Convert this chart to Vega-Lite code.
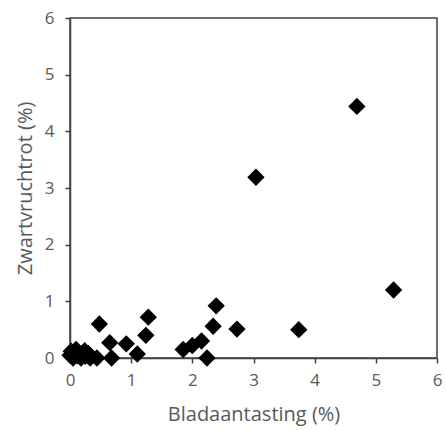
{
  "$schema": "https://vega.github.io/schema/vega-lite/v6.json",
  "autosize": "none",
  "width": 367,
  "height": 340,
  "padding": {"left": 70, "top": 18, "right": 9, "bottom": 72},
  "background": "white",
  "config": {
    "view": {"stroke": "#404040", "strokeWidth": 1.5},
    "axis": {
      "grid": false,
      "labelFlush": false,
      "labelOverlap": false,
      "domainColor": "#404040",
      "domainWidth": 1.5,
      "tickColor": "#404040",
      "tickWidth": 1.5,
      "tickSize": 5,
      "labelColor": "#595959",
      "labelFont": "Open Sans",
      "labelFontSize": 17,
      "titleColor": "#595959",
      "titleFont": "Open Sans",
      "titleFontSize": 20,
      "titleFontWeight": "normal"
    }
  },
  "data": {
    "values": [
      {"blad": 4.69, "zwart": 4.44},
      {"blad": 3.04, "zwart": 3.19},
      {"blad": 5.29, "zwart": 1.2},
      {"blad": 3.74, "zwart": 0.5},
      {"blad": 2.73, "zwart": 0.51},
      {"blad": 2.39, "zwart": 0.92},
      {"blad": 2.34, "zwart": 0.56},
      {"blad": 2.24, "zwart": 0.0},
      {"blad": 2.15, "zwart": 0.3},
      {"blad": 2.0, "zwart": 0.22},
      {"blad": 1.85, "zwart": 0.15},
      {"blad": 1.28, "zwart": 0.72},
      {"blad": 1.24, "zwart": 0.4},
      {"blad": 0.48, "zwart": 0.6},
      {"blad": 0.65, "zwart": 0.27},
      {"blad": 0.92, "zwart": 0.25},
      {"blad": 1.1, "zwart": 0.07},
      {"blad": 0.68, "zwart": 0.0},
      {"blad": 0.44, "zwart": 0.0},
      {"blad": 0.0, "zwart": 0.05},
      {"blad": 0.02, "zwart": 0.12},
      {"blad": 0.05, "zwart": 0.0},
      {"blad": 0.1, "zwart": 0.15},
      {"blad": 0.12, "zwart": 0.04},
      {"blad": 0.18, "zwart": 0.0},
      {"blad": 0.24, "zwart": 0.13},
      {"blad": 0.3, "zwart": 0.08},
      {"blad": 0.33, "zwart": 0.0},
      {"blad": 0.25, "zwart": 0.03}
    ]
  },
  "mark": {"type": "point", "shape": "diamond", "filled": true, "color": "black", "opacity": 1, "size": 300},
  "encoding": {
    "x": {
      "field": "blad", "type": "quantitative",
      "scale": {"domain": [0, 6], "nice": false, "zero": true},
      "axis": {"title": "Bladaantasting (%)", "values": [0, 1, 2, 3, 4, 5, 6], "labelPadding": 9, "titlePadding": 16}
    },
    "y": {
      "field": "zwart", "type": "quantitative",
      "scale": {"domain": [0, 6], "nice": false, "zero": true},
      "axis": {"title": "Zwartvruchtrot (%)", "values": [0, 1, 2, 3, 4, 5, 6], "labelPadding": 11, "titlePadding": 9}
    }
  }
}
